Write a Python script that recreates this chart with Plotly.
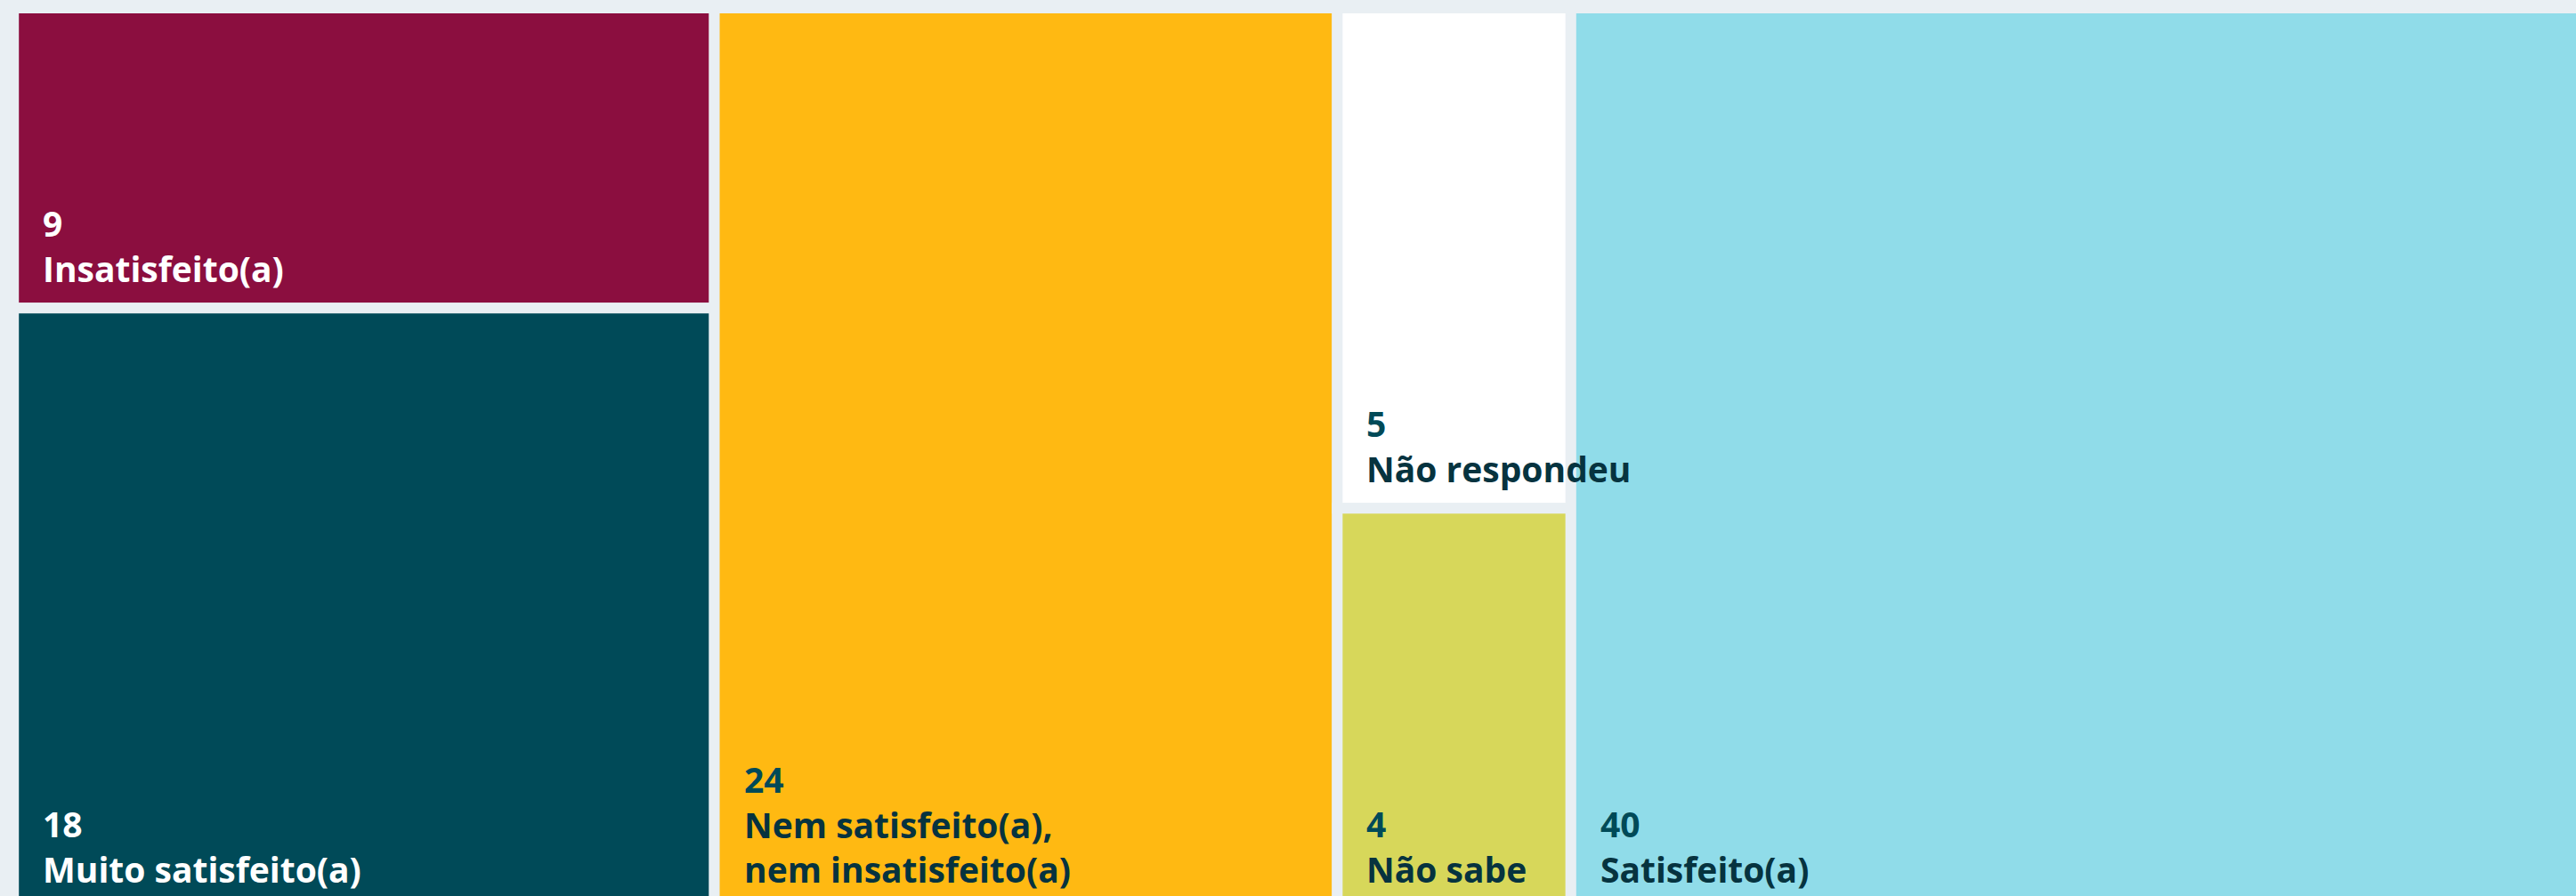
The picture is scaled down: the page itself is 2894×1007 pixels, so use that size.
import plotly.graph_objects as go

# ---- data ----
categories = ["Insatisfeito(a)", "Muito satisfeito(a)",
              "Nem satisfeito(a), nem insatisfeito(a)",
              "Não respondeu", "Não sabe", "Satisfeito(a)"]
values = [9, 18, 24, 5, 4, 40]
column_of = [0, 0, 1, 2, 2, 3]

# ---- style ----
cell_colors = ["#8B0E3F", "#004A58", "#FFB912", "#FFFFFF", "#D7D75A", "#90DCE9"]
dark_cells = [True, True, False, False, False, False]
BG = "#E9EFF3"
NUM_DARK = "#004A58"
LBL_DARK = "#06333F"
FONT = "Open Sans"

W, H = 2894, 1007
PX_PER_UNIT = 29.16
X_ORIGIN_PX = 15.2
Y_TOP_PX = 9.0
Y_SPAN_PX = 1012.0
ANCHOR_UP_PX = 40.0   # keep annotation anchors inside the visible range

# ---- layout computation (slice and dice) ----
ncols = max(column_of) + 1
col_tot = [sum(v for v, c in zip(values, column_of) if c == k) for k in range(ncols)]
col_left = []
acc = 0
for t in col_tot:
    col_left.append(acc)
    acc += t

xs, ws, bases, hs = [], [], [], []
run = [0.0] * ncols
for v, c in zip(values, column_of):
    frac = v / col_tot[c]
    xs.append(col_left[c] + col_tot[c] / 2)
    ws.append(col_tot[c])
    bases.append(run[c])
    hs.append(frac)
    run[c] += frac

fig = go.Figure()
fig.add_trace(go.Bar(
    x=xs, y=hs, base=bases, width=ws,
    marker=dict(color=cell_colors, line=dict(color=BG, width=12)),
    hoverinfo="skip", showlegend=False,
))

for i, (cat, v, c) in enumerate(zip(categories, values, column_of)):
    lbl = cat.replace(", ", ",<br>")
    if dark_cells[i]:
        txt = f"<b>{v}</b><br><b>{lbl}</b>"
        col = "#FFFFFF"
    else:
        txt = (f"<b><span style='color:{NUM_DARK}'>{v}</span></b><br>"
               f"<b>{lbl}</b>")
        col = LBL_DARK
    fig.add_annotation(
        x=col_left[c], y=bases[i] + hs[i] - ANCHOR_UP_PX / Y_SPAN_PX,
        xref="x", yref="y",
        xanchor="left", yanchor="bottom", align="left",
        text=txt, showarrow=False, xshift=31, yshift=16 - ANCHOR_UP_PX,
        font=dict(family=FONT, size=39, color=col),
    )

xmin = -X_ORIGIN_PX / PX_PER_UNIT
xmax = xmin + W / PX_PER_UNIT
ymin = -Y_TOP_PX / Y_SPAN_PX
ymax = ymin + H / Y_SPAN_PX

fig.update_layout(
    width=W, height=H,
    margin=dict(l=0, r=0, t=0, b=0),
    paper_bgcolor=BG, plot_bgcolor=BG,
    barmode="overlay",
    xaxis=dict(range=[xmin, xmax], visible=False, fixedrange=True),
    yaxis=dict(range=[ymax, ymin], visible=False, fixedrange=True),
    font=dict(family=FONT),
)

fig.write_html(
    "out.html",
    config={"displayModeBar": False},
    post_script="document.body.style.margin='0';document.body.style.background='#E9EFF3';document.body.style.overflow='hidden';",
)
